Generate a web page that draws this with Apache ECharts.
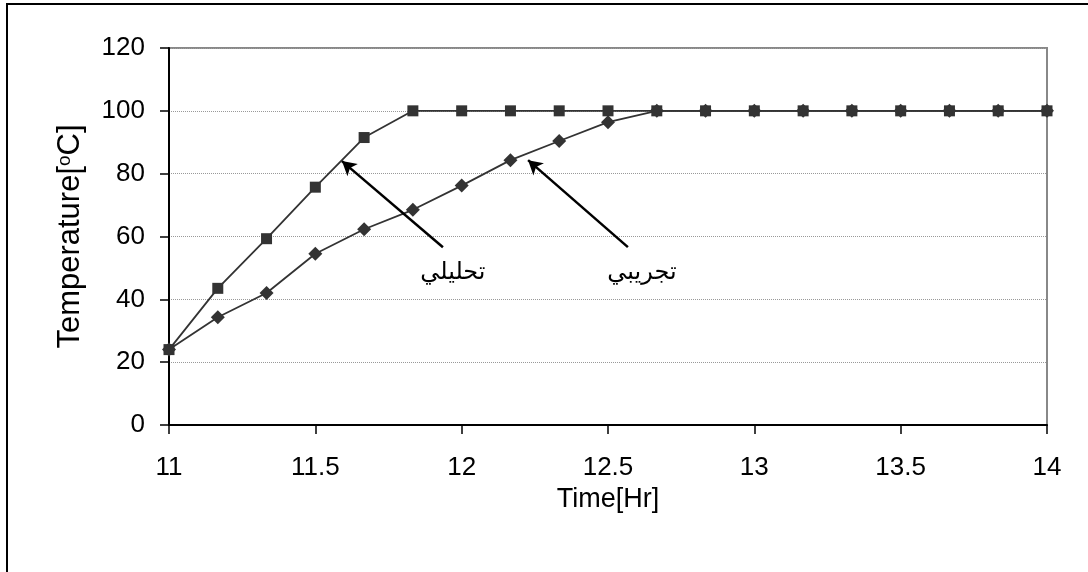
<!DOCTYPE html>
<html>
<head>
<meta charset="utf-8">
<script src="https://cdn.jsdelivr.net/npm/echarts@6/dist/echarts.min.js"></script>
<style>html,body{margin:0;padding:0;background:#fff}#c{width:1088px;height:572px}</style>
</head>
<body>
<div id="c"></div>
<script>
// Time [Hr]
var timeHr = [11, 11.1667, 11.3333, 11.5, 11.6667, 11.8333, 12, 12.1667, 12.3333, 12.5, 12.6667, 12.8333, 13, 13.1667, 13.3333, 13.5, 13.6667, 13.8333, 14];
// Analytical (تحليلي) - squares
var analytical = [24, 43.5, 59.3, 75.7, 91.5, 100, 100, 100, 100, 100, 100, 100, 100, 100, 100, 100, 100, 100, 100];
// Experimental (تجريبي) - diamonds
var experimental = [24, 34.3, 42, 54.5, 62.3, 68.5, 76.2, 84.3, 90.4, 96.4, 100, 100, 100, 100, 100, 100, 100, 100, 100];
// Annotation arrows: [tail, tip] in data coordinates
var arrowAnalytical = [[11.936, 56.6], [11.591, 84.0]];
var arrowExperimental = [[12.568, 56.6], [12.227, 84.3]];
// Annotation labels: [x, y, text]
var labelAnalytical = [11.97, 48.5, 'تحليلي'];
var labelExperimental = [12.616, 48.5, 'تجريبي'];
var xTicks = {min: 11, max: 14, interval: 0.5};
var yTicks = {min: 0, max: 120, interval: 20};

function toPairs(xs, ys) { return xs.map(function (x, i) { return [x, ys[i]]; }); }

var FONT = '"Liberation Sans", Arial, sans-serif';
var chart = echarts.init(document.getElementById('c'), null, {renderer: 'canvas'});
var labelStyle = function (p) {
  return {
    coord: [p[0], p[1]], symbol: 'circle', symbolSize: 0,
    label: {show: true, position: 'inside', formatter: p[2], color: '#000',
      fontSize: 24, fontFamily: '"DejaVu Sans", sans-serif'}
  };
};
chart.setOption({
  animation: false,
  backgroundColor: '#fff',
  graphic: [{
    type: 'rect', shape: {x: 7, y: 4, width: 1200, height: 700},
    style: {fill: 'none', stroke: '#000', lineWidth: 2}, silent: true
  }],
  grid: {left: 169, top: 48, width: 878, height: 377, show: true,
    borderColor: '#888', borderWidth: 2, backgroundColor: 'transparent'},
  xAxis: {
    type: 'value', min: xTicks.min, max: xTicks.max, interval: xTicks.interval,
    name: 'Time[Hr]', nameLocation: 'middle', nameGap: 60,
    nameTextStyle: {color: '#000', fontSize: 27, fontFamily: FONT},
    axisLine: {show: true, lineStyle: {color: '#000', width: 2}},
    axisTick: {show: true, length: 9, lineStyle: {color: '#000', width: 1.5}},
    axisLabel: {color: '#000', fontSize: 26, fontFamily: FONT, margin: 30},
    splitLine: {show: false}
  },
  yAxis: {
    type: 'value', min: yTicks.min, max: yTicks.max, interval: yTicks.interval,
    name: 'Temperature[{sup|o}C]', nameLocation: 'middle', nameGap: 83,
    nameTextStyle: {color: '#000', fontSize: 31, fontFamily: FONT,
      rich: {sup: {fontSize: 19, fontFamily: FONT, color: '#000', verticalAlign: 'top', padding: [0, 0, 12, 0]}}},
    axisLine: {show: true, lineStyle: {color: '#000', width: 2}},
    axisTick: {show: true, length: 9, lineStyle: {color: '#000', width: 1.5}},
    axisLabel: {color: '#000', fontSize: 26, fontFamily: FONT, margin: 24},
    splitLine: {show: true, lineStyle: {color: '#999', width: 1, type: 'dotted'}}
  },
  series: [{
    type: 'line', name: 'analytical', data: toPairs(timeHr, analytical),
    symbol: 'rect', symbolSize: 11, showAllSymbol: true,
    lineStyle: {color: '#333', width: 1.8}, itemStyle: {color: '#333'},
    markLine: {
      silent: true, symbol: ['none', 'arrow'], symbolSize: [12, 14],
      lineStyle: {color: '#000', width: 2.5, type: 'solid'}, label: {show: false},
      data: [[{coord: arrowAnalytical[0]}, {coord: arrowAnalytical[1]}],
             [{coord: arrowExperimental[0]}, {coord: arrowExperimental[1]}]]
    },
    markPoint: {silent: true, data: [labelStyle(labelAnalytical), labelStyle(labelExperimental)]}
  }, {
    type: 'line', name: 'experimental', data: toPairs(timeHr, experimental),
    symbol: 'diamond', symbolSize: 14, showAllSymbol: true,
    lineStyle: {color: '#333', width: 1.8}, itemStyle: {color: '#333'}
  }]
});
</script>
</body>
</html>
